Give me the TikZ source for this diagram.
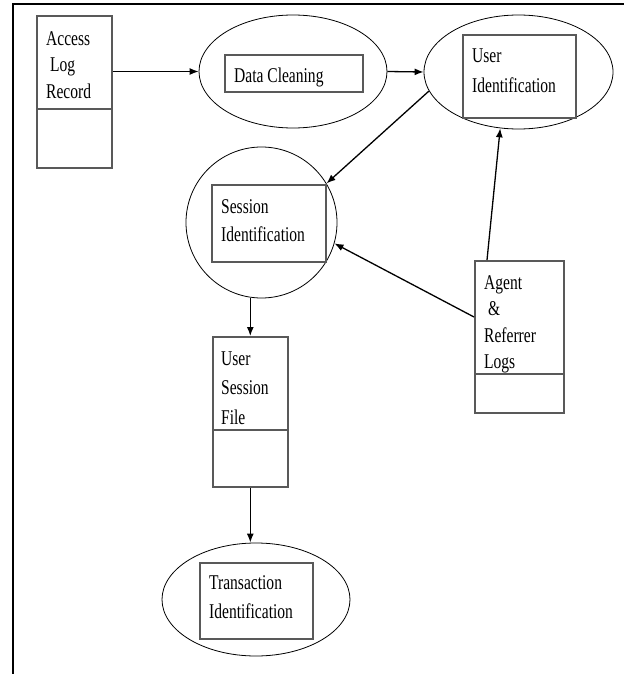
\documentclass[tikz,border=0pt]{standalone}
\usepackage{fontspec}
\setmainfont[FakeStretch=0.74]{Liberation Serif}
\usetikzlibrary{shapes.geometric,arrows.meta,calc}
\begin{document}
\begin{tikzpicture}[x=1pt,y=-1pt,
  frame/.style={line width=1.8pt},
  store/.style={draw=black!65,line width=1.6pt,rectangle,inner sep=0,anchor=north west},
  divider/.style={draw=black!65,line width=1.6pt},
  proc/.style={draw,line width=0.8pt,ellipse,inner sep=0},
  inbox/.style={draw=black!65,line width=1.6pt,rectangle,inner sep=0,anchor=north west},
  txt/.style={anchor=north west,inner sep=0,align=left},
  arr/.style={line width=1.3pt,-{Latex[length=9pt,width=7pt]}}]
\useasboundingbox (0,0) rectangle (624,674);
\draw[frame] (13,674) -- (13,4) -- (624,4);

% Access Log Record
\node[store,minimum width=75pt,minimum height=152pt] (alr) at (36,15) {};
\draw[divider] (alr.west |- 0,109) -- (alr.east |- 0,109);
\node[txt,font=\fontsize{21}{26.5}\selectfont] (alrt) at (46,26.45) {\strut Access\\\hspace{4pt}Log\\Record};

% Data Cleaning
\node[proc,minimum width=188pt,minimum height=113pt] (dc) at (293,71.5) {};
\node[inbox,minimum width=138pt,minimum height=37pt] (dcb) at (224,54) {};
\node[txt,font=\fontsize{21}{28}\selectfont] (dct) at (234,62.4) {\strut Data Cleaning};

% User Identification
\node[proc,minimum width=189pt,minimum height=114pt] (ui) at (518.5,72) {};
\node[inbox,minimum width=113pt,minimum height=83pt] (uib) at (462,34) {};
\node[txt,font=\fontsize{21}{30}\selectfont] (uit) at (472,41) {\strut User\\Identification};

% Session Identification
\node[proc,minimum width=151pt,minimum height=151pt] (sc) at (261.5,222.5) {};
\node[inbox,minimum width=114pt,minimum height=77pt] (scb) at (211,184) {};
\node[txt,font=\fontsize{21}{28}\selectfont] (sct) at (221,193.4) {\strut Session\\Identification};

% Agent & Referrer Logs
\node[store,minimum width=89pt,minimum height=152pt] (ag) at (474,260) {};
\draw[divider] (ag.west |- 0,374) -- (ag.east |- 0,374);
\node[txt,font=\fontsize{21}{26.5}\selectfont] (agt) at (484,270.45) {\strut Agent\\\hspace{4pt}\&\\Referrer\\Logs};

% User Session File
\node[store,minimum width=75pt,minimum height=150pt] (usf) at (212,336) {};
\draw[divider] (usf.west |- 0,430) -- (usf.east |- 0,430);
\node[txt,font=\fontsize{21}{29.5}\selectfont] (usft) at (221,344.35) {\strut User\\Session\\File};

% Transaction Identification
\node[proc,minimum width=188pt,minimum height=113pt] (ti) at (256,599.5) {};
\node[inbox,minimum width=113pt,minimum height=76pt] (tib) at (199,562) {};
\node[txt,font=\fontsize{21}{29}\selectfont] (tit) at (209,568.7) {\strut Transaction\\Identification};

% connectors
\draw[arr] (alr.east |- dc.west) -- (dc.west);
\draw[arr] (dc.east) -- (ui.west);
\draw[arr] (ui.192) -- (sc.31);
\draw[arr] (sc.south -| usf.north) -- (usf.north);
\draw[arr] (usf.south) -- (usf.south |- ti.north);
\coordinate (agtop) at ($(ag.north west)+(13,0)$);
\draw[arr] (agtop) -- (ui.252);
\coordinate (agl) at ($(ag.north west)+(0,57)$);
\draw[arr] (agl) -- (sc.344);
\end{tikzpicture}
\end{document}
